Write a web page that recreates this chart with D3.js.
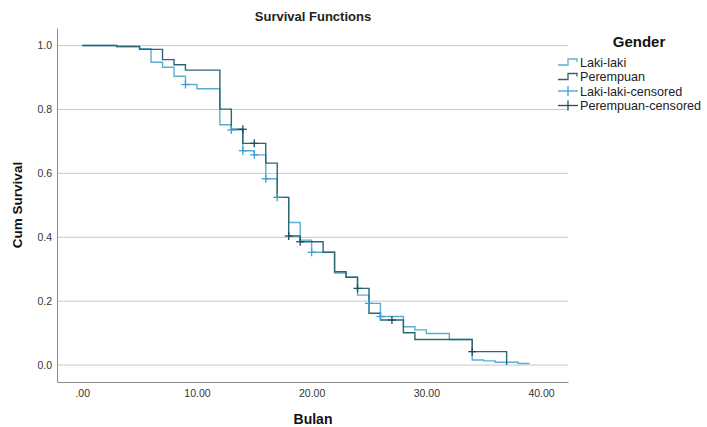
<!DOCTYPE html>
<html>
<head>
<meta charset="utf-8">
<script src="https://cdn.jsdelivr.net/npm/d3@7"></script>
<style>
  body { margin: 0; background: #fff; }
  svg { font-family: "Liberation Sans", Arial, sans-serif; }
</style>
</head>
<body>
<div id="chart"></div>
<script>
// Kaplan-Meier steps
const lakiTime = [0, 3, 5, 6, 7, 8, 9, 10, 12, 13, 14, 15, 16, 17, 18, 19, 20, 22, 23, 24, 25, 26, 28, 29, 30, 32, 34, 35, 36, 38, 39];
const lakiSurv = [1.0, 0.997, 0.99, 0.948, 0.932, 0.904, 0.878, 0.865, 0.752, 0.736, 0.671, 0.658, 0.583, 0.525, 0.446, 0.391, 0.353, 0.288, 0.275, 0.219, 0.193, 0.152, 0.12, 0.11, 0.099, 0.08, 0.016, 0.013, 0.009, 0.005, 0.005];

const perTime = [0, 3, 5, 7, 8, 9, 12, 13, 14, 16, 17, 18, 19, 21, 22, 23, 24, 25, 26, 28, 29, 34, 37];
const perSurv = [1.0, 0.997, 0.988, 0.956, 0.94, 0.923, 0.801, 0.738, 0.694, 0.632, 0.525, 0.404, 0.386, 0.353, 0.292, 0.275, 0.24, 0.162, 0.141, 0.101, 0.08, 0.042, 0.0];

// censored cases
const lakiCensT = [9, 13, 14, 15, 16, 17, 20, 25, 26];
const lakiCensS = [0.878, 0.736, 0.671, 0.658, 0.583, 0.525, 0.353, 0.193, 0.152];
const perCensT = [14, 15, 18, 19, 24, 27, 34];
const perCensS = [0.738, 0.694, 0.404, 0.386, 0.24, 0.141, 0.042];

const xTicks = [0, 10, 20, 30, 40];
const yTicks = [0, 0.2, 0.4, 0.6, 0.8, 1.0];
const legendLabels = ["Laki-laki", "Perempuan", "Laki-laki-censored", "Perempuan-censored"];

const lakiColor = "#5aaed2";
const perColor = "#2c6675";
const lakiCensColor = "#3d9fd3";
const perCensColor = "#1f4e5a";

const width = 707, height = 427;
const plot = { left: 57, right: 568, top: 28, bottom: 382 };

const svg = d3.select("#chart").append("svg")
    .attr("width", width)
    .attr("height", height);

const x = d3.scaleLinear().domain([-2.2, 42.35]).range([plot.left, plot.right]);
const y = d3.scaleLinear().domain([-0.053, 1.055]).range([plot.bottom, plot.top]);

// gridlines
svg.append("g")
    .selectAll("line")
    .data(yTicks)
    .enter()
    .append("line")
    .attr("x1", plot.left)
    .attr("x2", plot.right)
    .attr("y1", d => y(d))
    .attr("y2", d => y(d))
    .attr("stroke", "#c8c8c8")
    .attr("stroke-width", 1);

// axes
const yAxis = d3.axisLeft(y).tickValues(yTicks).tickFormat(d3.format(".1f")).tickSize(0).tickPadding(5);
const xAxis = d3.axisBottom(x).tickValues(xTicks).tickFormat(d => d === 0 ? ".00" : d3.format(".2f")(d)).tickSize(0).tickPadding(8);

const gy = svg.append("g")
    .attr("transform", `translate(${plot.left},0)`)
    .call(yAxis);
const gx = svg.append("g")
    .attr("transform", `translate(0,${plot.bottom})`)
    .call(xAxis);

[gx, gy].forEach(g => {
    g.select(".domain").attr("stroke", "#8a8a8a");
    g.selectAll("text").attr("fill", "#333").style("font-size", "10.5px");
});

// survival steps
const line = d3.line()
    .x(d => x(d[0]))
    .y(d => y(d[1]))
    .curve(d3.curveStepAfter);

const lakiData = lakiTime.map((t, i) => [t, lakiSurv[i]]);
const perData = perTime.map((t, i) => [t, perSurv[i]]);

svg.append("path")
    .datum(lakiData)
    .attr("d", line)
    .attr("fill", "none")
    .attr("stroke", lakiColor)
    .attr("stroke-width", 1.4);

svg.append("path")
    .datum(perData)
    .attr("d", line)
    .attr("fill", "none")
    .attr("stroke", perColor)
    .attr("stroke-width", 1.4);

// censor marks
function drawCens(ts, ss, color) {
    const g = svg.append("g").attr("stroke", color).attr("stroke-width", 1.3);
    ts.forEach((t, i) => {
        const cx = x(t), cy = y(ss[i]);
        g.append("line").attr("x1", cx - 4).attr("x2", cx + 4).attr("y1", cy).attr("y2", cy);
        g.append("line").attr("x1", cx).attr("x2", cx).attr("y1", cy - 4).attr("y2", cy + 4);
    });
}
drawCens(lakiCensT, lakiCensS, lakiCensColor);
drawCens(perCensT, perCensS, perCensColor);

// titles
svg.append("text")
    .attr("x", 313).attr("y", 21)
    .attr("text-anchor", "middle")
    .style("font-size", "13px")
    .style("font-weight", "bold")
    .attr("fill", "#222")
    .text("Survival Functions");

svg.append("text")
    .attr("x", 313).attr("y", 424)
    .attr("text-anchor", "middle")
    .style("font-size", "14px")
    .style("font-weight", "bold")
    .attr("fill", "#111")
    .text("Bulan");

svg.append("text")
    .attr("transform", "translate(22,205) rotate(-90)")
    .attr("text-anchor", "middle")
    .style("font-size", "13.5px")
    .style("font-weight", "bold")
    .attr("fill", "#111")
    .text("Cum Survival");

// legend
const lg = svg.append("g");
lg.append("text")
    .attr("x", 639).attr("y", 47)
    .attr("text-anchor", "middle")
    .style("font-size", "15px")
    .style("font-weight", "bold")
    .attr("fill", "#111")
    .text("Gender");

const legendColors = [lakiColor, perColor, lakiCensColor, perCensColor];
legendLabels.forEach((lab, i) => {
    const ly = 62 + i * 14.5;
    if (i < 2) {
        lg.append("path")
            .attr("d", `M558,${ly + 3}H568V${ly - 3}H577V${ly}`)
            .attr("fill", "none")
            .attr("stroke", legendColors[i])
            .attr("stroke-width", 1.3);
    } else {
        lg.append("line").attr("x1", 558).attr("x2", 578).attr("y1", ly).attr("y2", ly)
            .attr("stroke", legendColors[i]).attr("stroke-width", 1.3);
        lg.append("line").attr("x1", 568).attr("x2", 568).attr("y1", ly - 5).attr("y2", ly + 5)
            .attr("stroke", legendColors[i]).attr("stroke-width", 1.3);
    }
    lg.append("text")
        .attr("x", 580).attr("y", ly + 4.5)
        .style("font-size", "12.6px")
        .attr("fill", "#222")
        .text(lab);
});
</script>
</body>
</html>
